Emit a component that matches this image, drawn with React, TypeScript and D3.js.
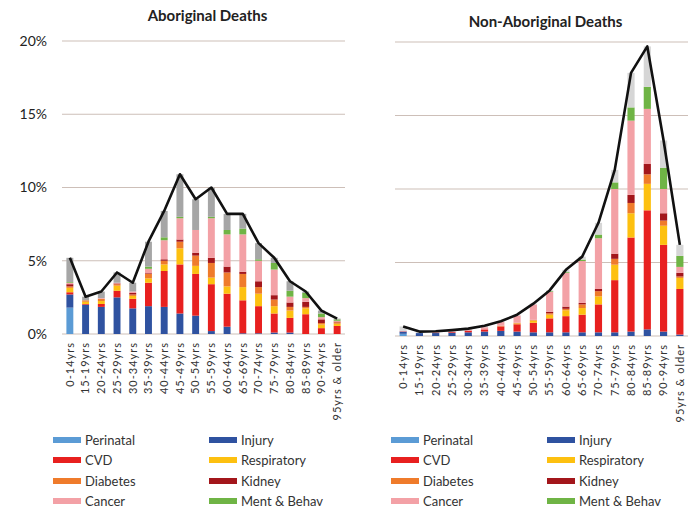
import React from "react";
import * as d3 from "d3";

const ageGroups = [
  "0-14yrs", "15-19yrs", "20-24yrs", "25-29yrs", "30-34yrs", "35-39yrs",
  "40-44yrs", "45-49yrs", "50-54yrs", "55-59yrs", "60-64yrs", "65-69yrs",
  "70-74yrs", "75-79yrs", "80-84yrs", "85-89yrs", "90-94yrs", "95yrs & older",
];
const yTicks = [0, 5, 10, 15, 20];

// Aboriginal deaths, % of all deaths
const abPerinatal = [1.8, 0, 0, 0, 0, 0, 0, 0, 0, 0, 0, 0, 0, 0, 0, 0, 0, 0];
const abInjury = [0.9, 2.0, 1.85, 2.5, 1.75, 1.9, 1.85, 1.4, 1.25, 0.2, 0.5, 0.05, 0.05, 0.1, 0.1, 0, 0, 0];
const abCvd = [0.15, 0.05, 0.2, 0.45, 0.65, 1.6, 2.45, 3.35, 2.85, 3.2, 2.25, 2.25, 1.85, 1.3, 1.0, 1.35, 0.4, 0.55];
const abResp = [0.3, 0.15, 0.2, 0.35, 0.2, 0.3, 0.45, 1.1, 0.55, 0.45, 0.5, 0.9, 0.85, 0.5, 0.5, 0.4, 0.25, 0.15];
const abDiab = [0.1, 0.1, 0.15, 0.1, 0.1, 0.3, 0.25, 0.45, 0.7, 1.0, 0.95, 0.9, 0.45, 0.45, 0.25, 0.1, 0.1, 0.1];
const abKidney = [0.15, 0, 0, 0.05, 0.1, 0.05, 0.1, 0.15, 0.2, 0.35, 0.4, 0.15, 0.4, 0.3, 0.3, 0.35, 0.25, 0.05];
const abCancer = [0.1, 0, 0.05, 0.05, 0.1, 0.3, 1.3, 1.45, 1.55, 2.7, 2.2, 2.55, 1.4, 1.75, 0.4, 0.25, 0.15, 0.05];
const abMent = [0.05, 0, 0, 0, 0, 0.15, 0.2, 0.1, 0, 0.1, 0.3, 0.4, 0.1, 0.45, 0.4, 0.35, 0.25, 0.1];
const abOther = [1.65, 0.25, 0.45, 0.7, 0.6, 1.7, 1.8, 2.9, 2.1, 2.0, 1.1, 1.0, 1.1, 0.35, 0.65, 0.1, 0.2, 0.05];
const abTotal = [5.2, 2.55, 2.9, 4.2, 3.5, 6.3, 8.4, 10.9, 9.2, 10.0, 8.2, 8.2, 6.2, 5.2, 3.6, 2.9, 1.6, 1.05];

// Non-Aboriginal deaths, % of all deaths
const naPerinatal = [0.15, 0, 0, 0, 0, 0, 0, 0, 0, 0, 0, 0, 0, 0, 0, 0, 0, 0];
const naInjury = [0.15, 0.2, 0.2, 0.22, 0.25, 0.3, 0.35, 0.3, 0.25, 0.25, 0.25, 0.25, 0.25, 0.25, 0.3, 0.45, 0.3, 0.1];
const naCvd = [0.02, 0, 0.03, 0.05, 0.1, 0.15, 0.3, 0.5, 0.65, 0.95, 1.1, 1.2, 1.9, 3.55, 6.4, 8.1, 5.9, 3.1];
const naResp = [0, 0, 0, 0, 0, 0, 0, 0.05, 0.15, 0.25, 0.4, 0.45, 0.55, 1.05, 1.65, 1.8, 1.3, 0.75];
const naDiab = [0, 0, 0, 0, 0, 0, 0.05, 0.05, 0.05, 0.1, 0.1, 0.25, 0.35, 0.4, 0.7, 0.65, 0.35, 0.1];
const naKidney = [0, 0, 0, 0, 0, 0, 0, 0, 0, 0.1, 0.15, 0.1, 0.15, 0.35, 0.55, 0.7, 0.5, 0.25];
const naCancer = [0.03, 0, 0.04, 0.05, 0.1, 0.15, 0.25, 0.5, 1.05, 1.35, 2.3, 2.85, 3.45, 4.4, 5.05, 3.75, 1.65, 0.4];
const naMent = [0, 0, 0, 0, 0, 0, 0, 0, 0, 0.05, 0.05, 0.1, 0.25, 0.45, 0.9, 1.5, 1.45, 0.75];
const naOther = [0.3, 0.1, 0.05, 0.08, 0.05, 0.1, 0.05, 0.05, 0.05, 0.05, 0.15, 0.2, 0.8, 0.85, 2.35, 2.75, 1.85, 0.75];
const naTotal = [0.65, 0.3, 0.32, 0.4, 0.5, 0.7, 1.0, 1.45, 2.2, 3.1, 4.5, 5.4, 7.7, 11.3, 17.9, 19.7, 13.3, 6.2];

const causes = ["Perinatal", "Injury", "CVD", "Respiratory", "Diabetes", "Kidney", "Cancer", "Ment & Behav", "Other"];
const colors = ["#5b9bd5", "#2f52a0", "#e8201f", "#fdc010", "#ef7b2b", "#a3161b", "#f3a1a6", "#6fb445", "#a6a6a6"];
// legend order: two columns
const legendLeft = ["Perinatal", "CVD", "Diabetes", "Cancer"];
const legendRight = ["Injury", "Respiratory", "Kidney", "Ment & Behav"];

const font = "Lato, 'Open Sans', sans-serif";

type PanelProps = {
  title: string;
  titleY: number;
  series: number[][];
  total: number[];
  x0: number;
  x1: number;
  yTop: number;
  yBottom: number;
  showY: boolean;
  otherColor: string;
  legendX: number;
};

function Panel({ title, titleY, series, total, x0, x1, yTop, yBottom, showY, otherColor, legendX }: PanelProps) {
  const x = d3.scaleBand<string>().domain(ageGroups).range([x0, x1]).paddingInner(0.56).paddingOuter(0.28);
  const y = d3.scaleLinear().domain([0, 20]).range([yBottom, yTop]);

  const rows = ageGroups.map((g, i) => {
    const r: Record<string, number | string> = { group: g };
    causes.forEach((c, k) => (r[c] = series[k][i]));
    return r;
  });
  const stacked = d3.stack<Record<string, number | string>>().keys(causes)(rows);

  const line = d3
    .line<number>()
    .x((_, i) => (x(ageGroups[i]) as number) + x.bandwidth() / 2)
    .y((d) => y(d));

  const colorOf = (k: number) => (causes[k] === "Other" ? otherColor : colors[k]);
  const rowYs = [440, 460, 481, 501];

  return (
    <g>
      <text x={(x0 + x1) / 2 + 4} y={titleY} textAnchor="middle" fontFamily={font} fontWeight="bold" fontSize={15} fill="#222">
        {title}
      </text>
      {yTicks.map((t) => (
        <g key={t}>
          <line x1={x0} x2={x1} y1={y(t)} y2={y(t)} stroke="#cdbfb8" strokeWidth={1.2} />
          {showY && (
            <text x={x0 - 15} y={y(t)} dy="0.35em" textAnchor="end" fontFamily={font} fontSize={14} fill="#222">
              {t}%
            </text>
          )}
        </g>
      ))}
      {stacked.map((s, k) => (
        <g key={s.key} fill={colorOf(k)}>
          {s.map((d, i) =>
            d[1] - d[0] > 0 ? (
              <rect key={i} x={x(ageGroups[i])} width={x.bandwidth()} y={y(d[1])} height={y(d[0]) - y(d[1])} />
            ) : null
          )}
        </g>
      ))}
      <path d={line(total) as string} fill="none" stroke="#111" strokeWidth={2.6} strokeLinejoin="round" />
      {ageGroups.map((g) => {
        const cx = (x(g) as number) + x.bandwidth() / 2;
        return (
          <text
            key={g}
            transform={`translate(${cx},${yBottom + 8}) rotate(-90)`}
            dy="0.35em"
            textAnchor="end"
            fontFamily={font}
            fontSize={11}
            letterSpacing={1}
            fill="#333"
          >
            {g}
          </text>
        );
      })}
      {[legendLeft, legendRight].map((col, ci) =>
        col.map((name, ri) => {
          const k = causes.indexOf(name);
          const lx = legendX + ci * 156;
          return (
            <g key={name}>
              <rect x={lx} y={rowYs[ri] - 3} width={28} height={6} fill={colors[k]} />
              <text x={lx + 32} y={rowYs[ri]} dy="0.35em" fontFamily={font} fontSize={13} fill="#333">
                {name}
              </text>
            </g>
          );
        })
      )}
    </g>
  );
}

export default function App() {
  const abSeries = [abPerinatal, abInjury, abCvd, abResp, abDiab, abKidney, abCancer, abMent, abOther];
  const naSeries = [naPerinatal, naInjury, naCvd, naResp, naDiab, naKidney, naCancer, naMent, naOther];
  return (
    <svg width={693} height={511} style={{ position: "absolute", left: 0, top: 0, background: "#fff" }}>
      <Panel
        title="Aboriginal Deaths"
        titleY={21}
        series={abSeries}
        total={abTotal}
        x0={62}
        x1={345}
        yTop={41}
        yBottom={334}
        showY={true}
        otherColor="#a6a6a6"
        legendX={53}
      />
      <Panel
        title="Non-Aboriginal Deaths"
        titleY={27}
        series={naSeries}
        total={naTotal}
        x0={395}
        x1={688}
        yTop={42}
        yBottom={336}
        showY={false}
        otherColor="#d6d6d6"
        legendX={391}
      />
    </svg>
  );
}
